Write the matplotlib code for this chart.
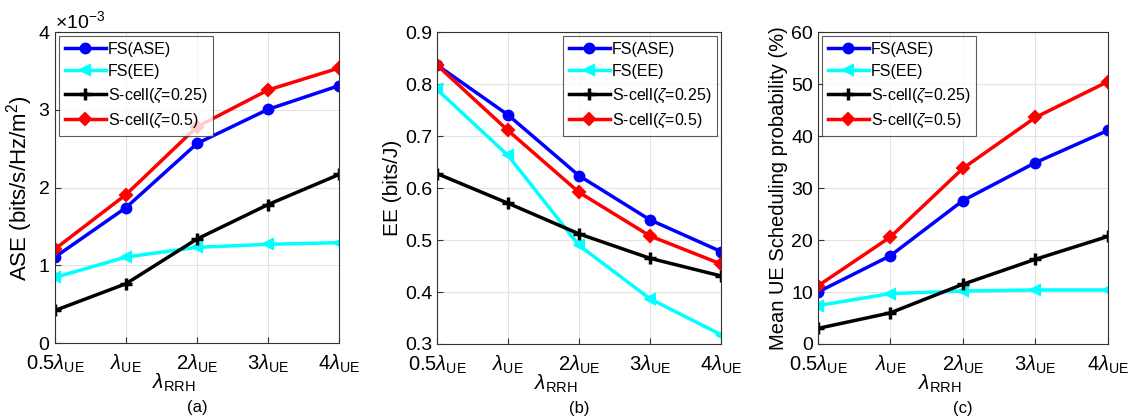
import matplotlib
matplotlib.use("Agg")
import matplotlib.pyplot as plt
import matplotlib.ticker as mticker

plt.rcParams["font.family"] = ["Liberation Sans", "DejaVu Sans"]
plt.rcParams["mathtext.fontset"] = "custom"
plt.rcParams["mathtext.rm"] = "Liberation Sans"
plt.rcParams["mathtext.it"] = "Liberation Sans:italic"
plt.rcParams["mathtext.cal"] = "Liberation Sans"

# ── Data ───────────────────────────────────────────────────────────────────
x_labels = [r"$0.5\lambda_{\rm UE}$", r"$\lambda_{\rm UE}$", r"$2\lambda_{\rm UE}$",
            r"$3\lambda_{\rm UE}$", r"$4\lambda_{\rm UE}$"]
series = ["FS(ASE)", "FS(EE)", r"S-cell($\zeta$=0.25)", r"S-cell($\zeta$=0.5)"]

ase_fs_ase = [1.108e-3, 1.744e-3, 2.569e-3, 3.008e-3, 3.313e-3]
ase_fs_ee = [0.846e-3, 1.108e-3, 1.233e-3, 1.272e-3, 1.293e-3]
ase_s025 = [0.421e-3, 0.765e-3, 1.340e-3, 1.783e-3, 2.170e-3]
ase_s05 = [1.212e-3, 1.912e-3, 2.784e-3, 3.257e-3, 3.540e-3]

ee_fs_ase = [0.837, 0.741, 0.624, 0.539, 0.478]
ee_fs_ee = [0.790, 0.663, 0.490, 0.387, 0.318]
ee_s025 = [0.628, 0.571, 0.512, 0.465, 0.431]
ee_s05 = [0.837, 0.711, 0.592, 0.508, 0.454]

sp_fs_ase = [10.0, 17.0, 27.6, 34.9, 41.1]
sp_fs_ee = [7.4, 9.7, 10.2, 10.4, 10.4]
sp_s025 = [3.0, 6.0, 11.5, 16.3, 20.7]
sp_s05 = [11.2, 20.6, 33.8, 43.6, 50.5]

styles = [
    dict(color="#0000ff", marker="o", ms=7, mew=1.5),
    dict(color="#00ffff", marker="<", ms=7, mew=1.5),
    dict(color="black", marker="+", ms=8, mew=2.5),
    dict(color="#ff0000", marker="D", ms=6, mew=1.5),
]

fig = plt.figure(figsize=(11.32, 4.19), dpi=100)
positions = [
    [0.0486, 0.181, 0.2509, 0.742],
    [0.386, 0.179, 0.2509, 0.744],
    [0.7226, 0.179, 0.256, 0.744],
]
panels = [
    ([ase_fs_ase, ase_fs_ee, ase_s025, ase_s05], r"ASE (bits/s/Hz/m$^2$)", 16, (0, 4e-3), "upper left", "(a)"),
    ([ee_fs_ase, ee_fs_ee, ee_s025, ee_s05], "EE (bits/J)", 15, (0.3, 0.9), "upper right", "(b)"),
    ([sp_fs_ase, sp_fs_ee, sp_s025, sp_s05], "Mean UE Scheduling probability (%)", 14.5, (0, 60), "upper left", "(c)"),
]

xs = range(len(x_labels))
for pos, (data, ylab, yfs, ylim, loc, tag) in zip(positions, panels):
    ax = fig.add_axes(pos)
    for vals, name, st in zip(data, series, styles):
        ax.plot(xs, vals, label=name, lw=2.5, color=st["color"], marker=st["marker"],
                ms=st["ms"], markeredgewidth=st["mew"])
    ax.set_xlim(0, 4)
    ax.set_ylim(*ylim)
    ax.set_xticks(list(xs))
    ax.set_xticklabels(x_labels, fontsize=14.5)
    ax.tick_params(axis="y", labelsize=14)
    ax.tick_params(axis="x", pad=7)
    ax.tick_params(direction="in", length=4, color="#333333")
    ax.grid(True, color="#e3e3e3", lw=0.8)
    ax.set_axisbelow(True)
    for s in ax.spines.values():
        s.set_color("#333333")
    ax.set_ylabel(ylab, fontsize=yfs, labelpad=2)
    if tag == "(a)":
        fmt = mticker.ScalarFormatter(useMathText=True)
        fmt.set_powerlimits((-3, -3))
        ax.yaxis.set_major_formatter(fmt)
        ax.yaxis.get_offset_text().set_fontsize(14)
        ax.set_yticks([0, 1e-3, 2e-3, 3e-3, 4e-3])
    ax.text(0.42, -0.128, r"$\lambda_{\rm RRH}$", transform=ax.transAxes,
            ha="center", va="center", fontsize=15)
    ax.text(0.5, -0.207, tag, transform=ax.transAxes, ha="center", va="center", fontsize=12)
    leg = ax.legend(loc=loc, fontsize=11.5, frameon=True, fancybox=False,
                    borderaxespad=0.25, handlelength=2.6, handletextpad=0.1,
                    labelspacing=0.45, borderpad=0.35)
    leg.get_frame().set_edgecolor("#333333")
    leg.get_frame().set_linewidth(0.8)

fig.savefig("out.png", dpi=100)
